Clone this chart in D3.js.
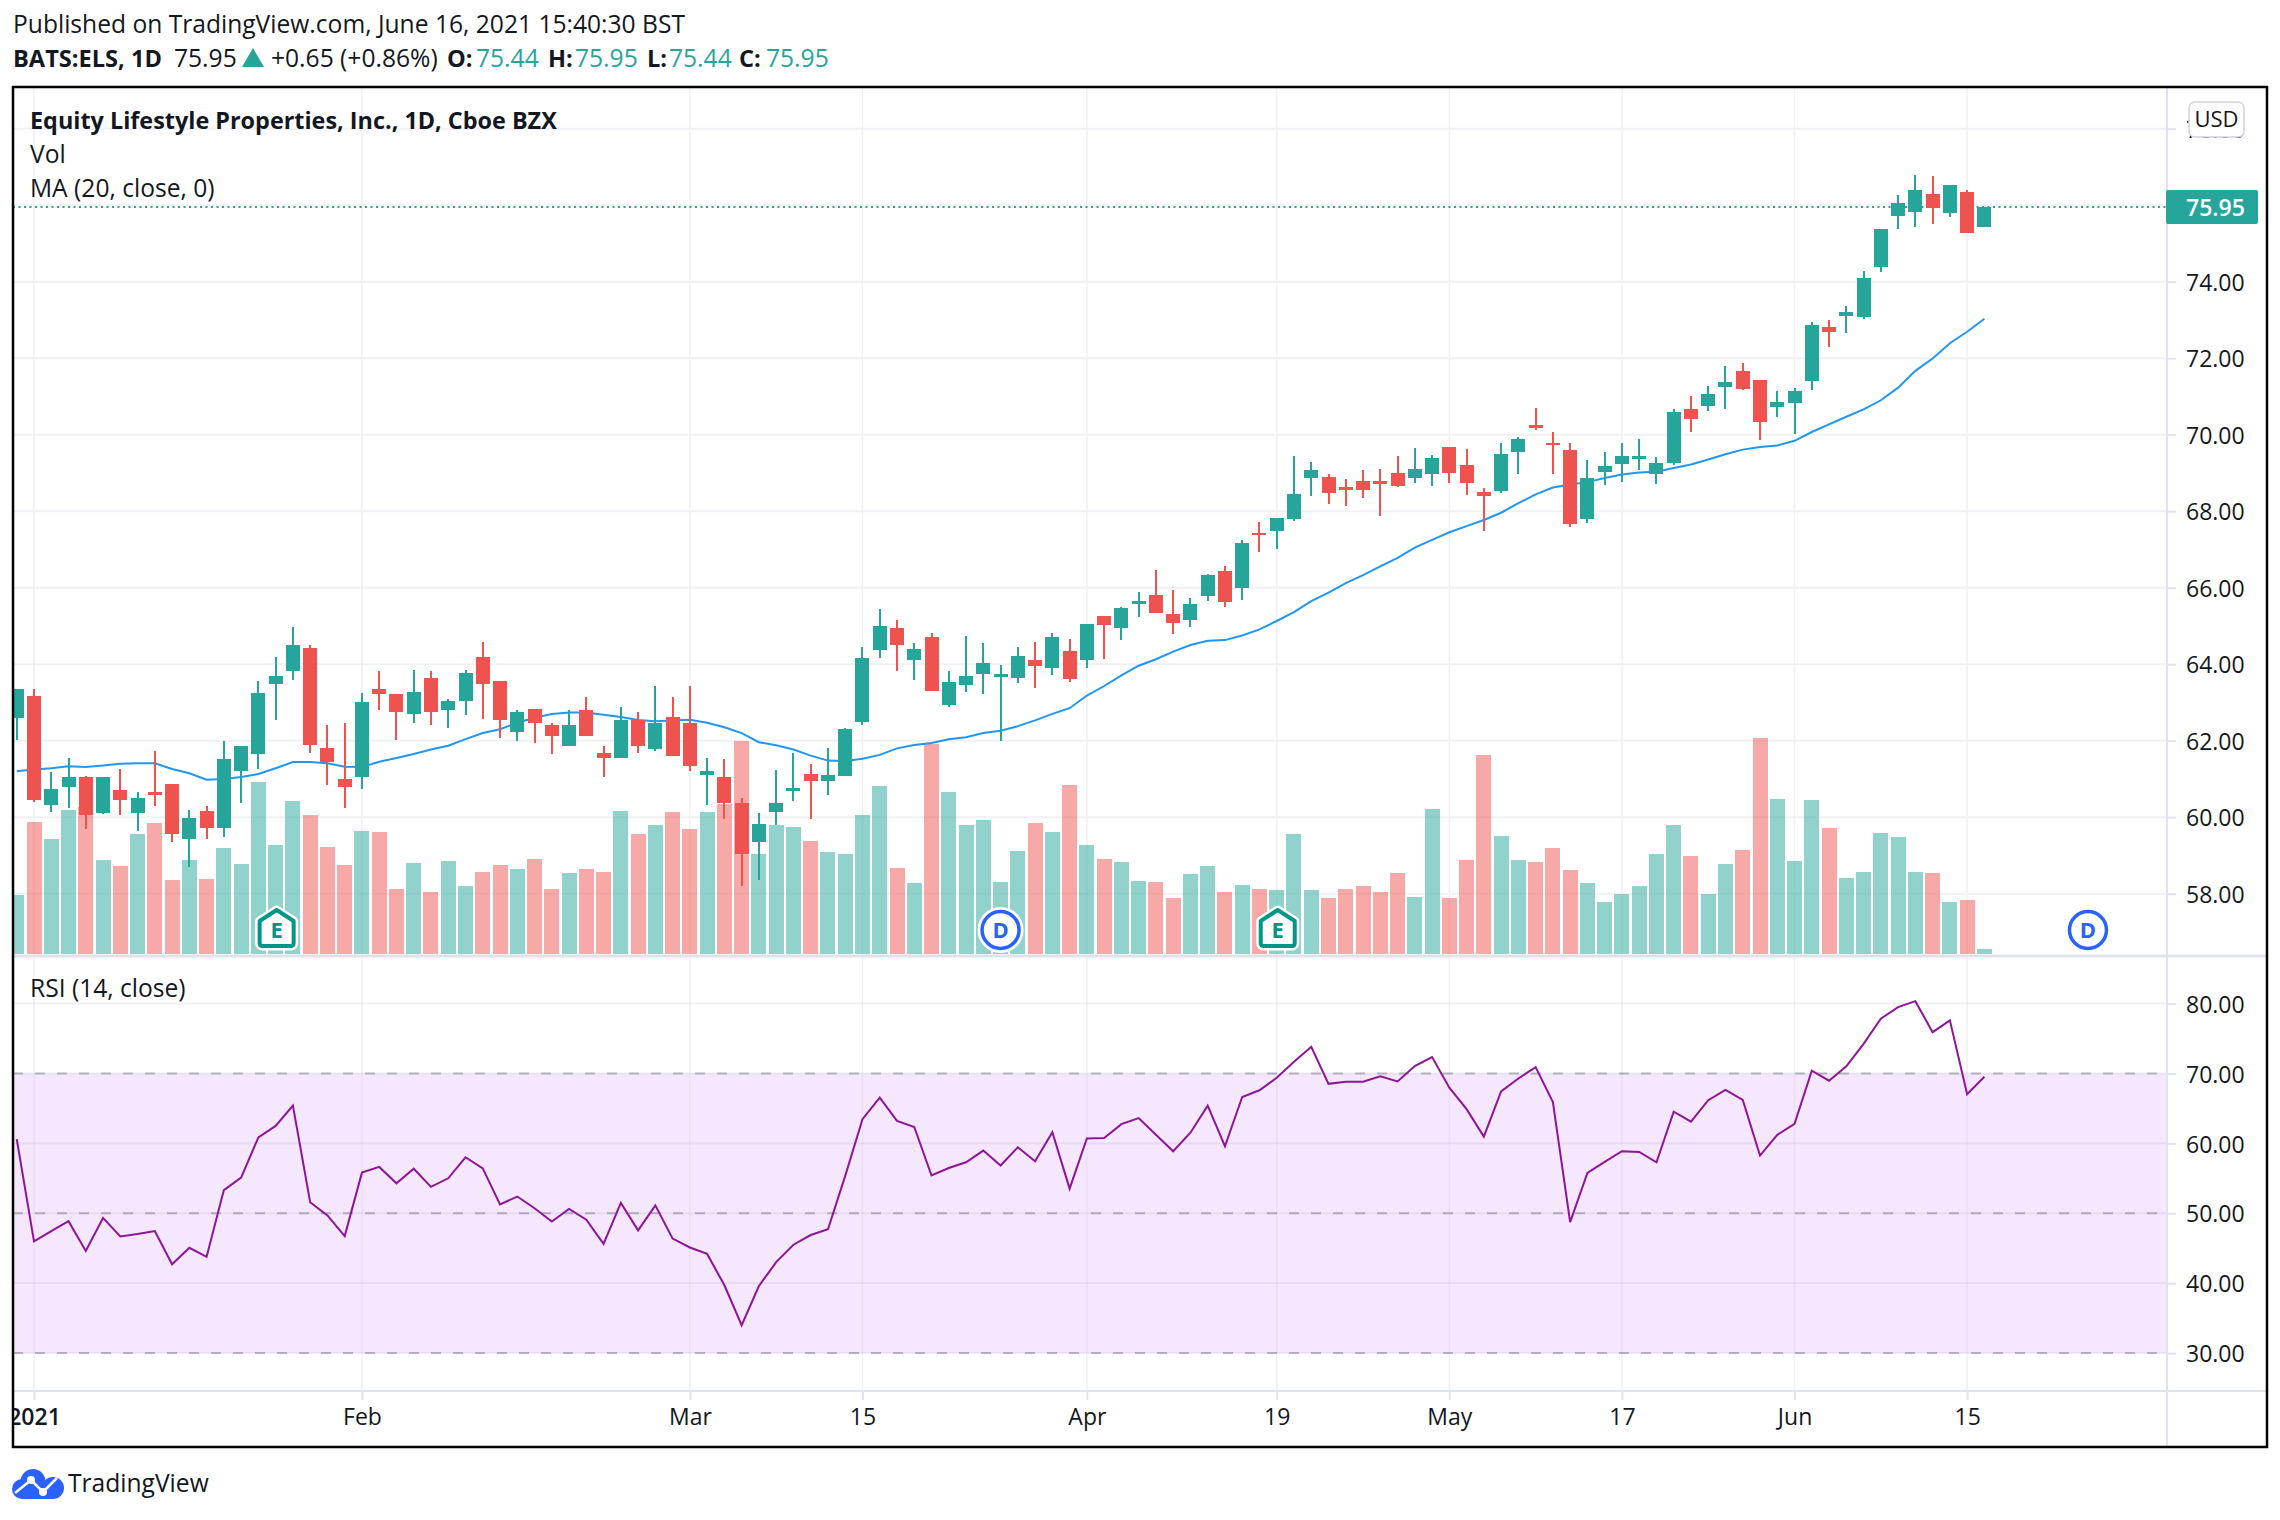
<!DOCTYPE html>
<html>
<head>
<meta charset="utf-8">
<script src="https://cdn.jsdelivr.net/npm/d3@7"></script>
<style>
  html, body { margin: 0; background: #fff; }
  svg { display: block; }
  text { font-family: "Open Sans", sans-serif; fill: #131722; }
  .axis text { font-size: 23px; fill: #131722; }
  .axis path { display: none; }
  .axis line { stroke: #e0e3eb; stroke-width: 2; }
</style>
</head>
<body>
<svg id="chart" width="2280" height="1520"></svg>
<script>
// Daily bars, first one is Dec 31 2020 (bar -1), Jan 4 2021 is bar 0
const opens = [62.59,63.18,60.33,60.80,61.06,60.12,60.72,60.12,60.67,60.88,59.44,60.15,59.73,61.22,61.66,63.47,63.81,64.43,61.82,61.01,61.06,63.36,63.21,62.71,63.65,62.81,63.05,64.20,63.55,62.24,62.84,62.40,61.85,62.79,61.69,61.56,62.53,61.77,62.63,62.45,61.11,61.04,60.38,59.34,
  60.14,60.69,61.13,60.95,61.08,62.49,64.37,64.95,64.11,64.71,62.94,63.46,63.75,63.67,63.64,64.11,63.90,64.35,64.11,65.26,64.95,65.58,65.81,65.31,65.16,65.79,66.44,65.99,67.43,67.48,67.80,68.87,68.90,68.63,68.79,68.79,69.00,68.87,68.97,69.68,69.21,68.50,68.53,69.56,
  70.25,69.79,69.59,67.79,69.02,69.23,69.36,68.96,69.25,70.67,70.75,71.24,71.66,71.43,70.72,70.82,71.40,72.81,73.10,73.08,74.38,75.72,75.82,76.30,75.80,76.35,75.44];
const highs = [63.36,63.34,61.19,61.56,61.09,61.04,61.27,60.67,61.72,60.88,60.20,60.28,62.00,61.87,63.57,64.20,64.96,64.51,62.42,62.45,63.26,63.83,63.21,63.86,63.81,63.08,63.86,64.57,63.55,62.81,62.84,62.47,62.81,63.13,61.87,62.87,62.74,63.44,63.13,63.44,61.56,61.53,60.49,60.12,
  61.24,61.68,61.39,61.81,62.34,64.45,65.45,65.16,64.56,64.82,63.83,64.74,64.56,63.98,64.45,64.58,64.82,64.66,65.05,65.26,65.49,65.89,66.46,65.94,65.72,66.36,66.57,67.24,67.72,67.82,69.44,69.29,68.97,68.84,69.08,69.10,69.44,69.65,69.47,69.68,69.63,68.61,69.78,69.93,
  70.71,70.06,69.78,69.33,69.54,69.78,69.88,69.41,70.67,71.01,71.27,71.79,71.87,71.43,71.14,71.22,72.94,72.99,73.36,74.28,75.38,76.27,76.79,76.77,76.53,76.40,75.95];
const lows = [62.03,60.39,60.13,60.23,59.68,60.08,60.07,59.65,60.30,59.36,58.71,59.44,59.47,60.36,61.25,62.55,63.60,61.69,60.83,60.23,60.75,62.79,62.03,62.47,62.42,62.34,62.68,62.58,62.08,62.00,61.95,61.66,61.85,62.13,61.04,61.56,61.69,61.72,61.61,61.22,60.33,59.96,58.21,58.37,
  59.80,60.43,59.96,60.58,61.08,62.40,64.16,63.83,63.59,63.30,62.88,63.28,63.22,61.98,63.51,63.38,63.72,63.54,63.90,64.14,64.64,65.24,65.34,64.79,64.98,65.65,65.50,65.68,66.94,67.01,67.75,68.40,68.19,68.14,68.35,67.88,68.63,68.74,68.66,68.74,68.42,67.48,68.48,68.97,
  70.12,68.96,67.59,67.69,68.68,68.76,69.07,68.70,69.20,70.06,70.61,70.67,71.16,69.85,70.46,70.01,71.16,72.29,72.66,73.02,74.25,75.38,75.43,75.51,75.69,75.27,75.44];
const closes = [63.34,60.44,60.75,61.06,60.07,61.04,60.44,60.51,60.57,59.57,59.99,59.73,61.51,61.87,63.26,63.70,64.49,61.90,61.45,60.80,63.02,63.23,62.74,63.28,62.74,63.05,63.76,63.47,62.53,62.76,62.45,62.11,62.42,62.13,61.56,62.53,61.85,62.47,61.61,61.35,61.22,60.36,59.05,59.83,
  60.38,60.77,60.95,61.11,62.31,64.16,65.00,64.50,64.40,63.30,63.54,63.69,64.03,63.75,64.22,63.96,64.71,63.62,65.05,65.03,65.47,65.65,65.34,65.08,65.58,66.33,65.63,67.17,67.38,67.82,68.45,69.08,68.48,68.56,68.56,68.71,68.66,69.10,69.39,69.00,68.74,68.40,69.50,69.89,
  70.18,69.73,67.66,68.86,69.17,69.44,69.44,69.25,70.59,70.40,71.06,71.37,71.19,70.33,70.85,71.14,72.86,72.68,73.21,74.10,75.38,76.06,76.40,75.93,76.53,75.27,75.95];
// thousand shares
const volumes = [590,1320,1150,1440,1470,940,880,1200,1310,740,940,750,1060,900,1720,1090,1530,1390,1070,890,1230,1220,650,910,620,930,680,820,890,850,950,650,810,850,820,1430,1200,1290,1420,1250,1420,1500,2130,1000,
  1290,1270,1130,1020,1000,1390,1680,860,710,2100,1620,1290,1340,720,1030,1310,1220,1690,1090,950,920,730,720,560,800,880,620,690,650,640,1200,640,560,650,680,620,810,570,1450,560,940,1990,1180,940,
  920,1060,840,710,520,600,680,1000,1290,980,600,900,1040,2160,1550,930,1540,1260,760,820,1210,1170,820,810,520,540,50];
const ma20 = [61.20,61.25,61.28,61.33,61.31,61.35,61.40,61.41,61.41,61.26,61.15,60.98,61.00,61.05,61.13,61.28,61.44,61.44,61.41,61.32,61.31,61.45,61.55,61.65,61.77,61.87,62.04,62.20,62.30,62.47,62.60,62.70,62.74,62.74,62.68,62.62,62.54,62.51,62.53,62.55,62.47,62.35,62.20,61.96,
  61.88,61.77,61.61,61.48,61.47,61.53,61.63,61.80,61.89,61.94,62.04,62.09,62.20,62.26,62.38,62.53,62.70,62.85,63.18,63.43,63.71,63.96,64.13,64.33,64.50,64.61,64.63,64.75,64.91,65.13,65.36,65.65,65.87,66.12,66.33,66.56,66.78,67.05,67.25,67.45,67.61,67.77,67.96,68.21,
  68.44,68.62,68.70,68.76,68.87,68.96,69.01,69.03,69.13,69.22,69.35,69.49,69.61,69.68,69.72,69.84,70.07,70.27,70.47,70.66,70.90,71.23,71.67,71.99,72.39,72.69,73.03];
const rsi14 = [60.61,45.96,47.44,48.87,44.59,49.33,46.68,47.04,47.44,42.70,45.05,43.77,53.31,55.10,60.86,62.50,65.40,51.58,49.69,46.73,55.81,56.63,54.28,56.37,53.77,55.00,58.01,56.42,51.27,52.39,50.71,48.82,50.61,49.08,45.61,51.48,47.55,51.12,46.37,45.10,44.18,39.69,33.97,39.59,
  43.00,45.50,46.88,47.70,55.35,63.46,66.53,63.21,62.34,55.40,56.47,57.29,58.97,56.83,59.43,57.44,61.58,53.52,60.71,60.76,62.75,63.62,61.22,58.87,61.53,65.40,59.59,66.63,67.60,69.38,71.68,73.82,68.52,68.82,68.82,69.59,68.87,71.07,72.34,67.96,64.89,60.96,67.44,69.28,
  70.91,65.91,48.72,55.76,57.34,58.87,58.77,57.29,64.54,63.11,66.17,67.65,66.22,58.26,61.22,62.80,70.40,68.97,71.02,74.23,77.85,79.49,80.35,75.91,77.60,67.04,69.54];

const priceTicks = [58, 60, 62, 64, 66, 68, 70, 72, 74, 78];
const rsiTicks = [30, 40, 50, 60, 70, 80];
const rsiLevels = [30, 50, 70];
const timeTickBars = [0, 19, 38, 48, 61, 72, 82, 92, 102, 112];
const timeTickLabels = ['2021', 'Feb', 'Mar', '15', 'Apr', '19', 'May', '17', 'Jun', '15'];
const earningsBars = [14, 72];
const dividendBars = [56, 119];
const lastPrice = 75.95;

const green = '#26a69a', red = '#ef5350', blue = '#2962ff';
const frame = { left: 13, right: 2267, top: 87, bottom: 1447 };
const axisX = 2167, timeAxisY = 1391, paneSplitY = 955;

const bars = closes.map((c, i) => ({
  bar: i - 1, open: opens[i], high: highs[i], low: lows[i], close: c,
  volume: volumes[i], ma: ma20[i], rsi: rsi14[i]
}));

const x = d3.scaleLinear([0, 113], [34, 1984.4]);
const yPrice = d3.scaleLinear([58, 74], [893.7, 281.7]);
const yVolume = d3.scaleLinear([0, 2160], [954, 738]);
const yRsi = d3.scaleLinear([30, 80], [1353, 1003.6]);

const svg = d3.select('#chart');
const isUp = d => d.close >= d.open;

svg.append('clipPath').attr('id', 'plotClip').append('rect')
  .attr('x', frame.left).attr('y', frame.top)
  .attr('width', axisX - frame.left).attr('height', timeAxisY - frame.top);
svg.append('clipPath').attr('id', 'frameClip').append('rect')
  .attr('x', frame.left).attr('y', frame.top)
  .attr('width', frame.right - frame.left).attr('height', frame.bottom - frame.top);

// Grid
let grid = svg.append('g').attr('stroke', '#f0f1f4');
grid.selectAll('.vgrid').data(timeTickBars).join('line')
  .attr('x1', d => x(d)).attr('x2', d => x(d))
  .attr('y1', frame.top).attr('y2', timeAxisY)
  .attr('stroke-width', 1.5);
grid.selectAll('.hprice').data(priceTicks.concat([76])).join('line')
  .attr('x1', frame.left).attr('x2', axisX)
  .attr('y1', d => yPrice(d)).attr('y2', d => yPrice(d))
  .attr('stroke-width', 2);

// RSI band goes under its grid lines
svg.append('rect')
  .attr('x', frame.left).attr('width', axisX - frame.left)
  .attr('y', yRsi(70)).attr('height', yRsi(30) - yRsi(70))
  .attr('fill', '#f5e7fe');
svg.append('g').attr('stroke', '#8a7a9a').attr('stroke-opacity', 0.12)
  .selectAll('line').data(rsiTicks).join('line')
  .attr('x1', frame.left).attr('x2', axisX)
  .attr('y1', d => yRsi(d)).attr('y2', d => yRsi(d))
  .attr('stroke-width', 2);
svg.append('g').attr('stroke', '#8a7a9a').attr('stroke-opacity', 0.08)
  .selectAll('line').data(timeTickBars).join('line')
  .attr('x1', d => x(d)).attr('x2', d => x(d))
  .attr('y1', yRsi(70)).attr('y2', yRsi(30))
  .attr('stroke-width', 1.5);
svg.append('g').attr('stroke', '#787b86').attr('stroke-opacity', 0.5)
  .attr('stroke-dasharray', '10 12')
  .selectAll('line').data(rsiLevels).join('line')
  .attr('x1', frame.left).attr('x2', axisX)
  .attr('y1', d => yRsi(d)).attr('y2', d => yRsi(d))
  .attr('stroke-width', 2);

let plot = svg.append('g').attr('clip-path', 'url(#plotClip)');

// Volume
plot.append('g').attr('shape-rendering', 'crispEdges')
  .selectAll('rect').data(bars).join('rect')
  .attr('x', d => Math.round(x(d.bar) - 7.5))
  .attr('width', 15)
  .attr('y', d => yVolume(d.volume))
  .attr('height', d => yVolume(0) - yVolume(d.volume))
  .attr('fill', d => isUp(d) ? green : red)
  .attr('fill-opacity', 0.5);

// Moving average
plot.append('path').datum(bars)
  .attr('fill', 'none').attr('stroke', '#2196f3').attr('stroke-width', 2)
  .attr('d', d3.line().x(d => x(d.bar)).y(d => yPrice(d.ma)));

// Last price line
plot.append('line')
  .attr('x1', frame.left).attr('x2', axisX)
  .attr('y1', yPrice(lastPrice)).attr('y2', yPrice(lastPrice))
  .attr('stroke', green).attr('stroke-width', 2).attr('stroke-dasharray', '2 3.5');

// Candles
let candles = plot.append('g').attr('shape-rendering', 'crispEdges')
  .selectAll('g').data(bars).join('g')
  .attr('fill', d => isUp(d) ? green : red);
candles.append('rect')
  .attr('x', d => Math.round(x(d.bar)) - 1).attr('width', 2)
  .attr('y', d => yPrice(d.high))
  .attr('height', d => yPrice(d.low) - yPrice(d.high));
candles.append('rect')
  .attr('x', d => Math.round(x(d.bar)) - 7).attr('width', 14)
  .attr('y', d => yPrice(Math.max(d.open, d.close)))
  .attr('height', d => Math.max(2, Math.abs(yPrice(d.open) - yPrice(d.close))));

// RSI line
plot.append('path').datum(bars)
  .attr('fill', 'none').attr('stroke', '#8e1599').attr('stroke-width', 2)
  .attr('d', d3.line().x(d => x(d.bar)).y(d => yRsi(d.rsi)));

// Earnings and dividend markers
let earnings = plot.append('g').selectAll('g').data(earningsBars).join('g')
  .attr('transform', d => `translate(${x(d) + 1},0)`);
const house = 'M-17 921L0 910L17 921V943Q17 946 14 946H-14Q-17 946 -17 943Z';
earnings.append('path').attr('d', house)
  .attr('fill', '#fff').attr('stroke', '#fff').attr('stroke-width', 9).attr('stroke-linejoin', 'round');
earnings.append('path').attr('d', house)
  .attr('fill', '#fff').attr('stroke', '#009688').attr('stroke-width', 4).attr('stroke-linejoin', 'round');
earnings.append('text').attr('y', 938).attr('text-anchor', 'middle')
  .style('font-size', '22px').style('font-weight', 700).style('fill', '#009688').text('E');

let dividends = plot.append('g').selectAll('g').data(dividendBars).join('g')
  .attr('transform', d => `translate(${x(d)},930)`);
dividends.append('circle').attr('r', 19)
  .attr('fill', '#fff').attr('stroke', '#fff').attr('stroke-width', 8);
dividends.append('circle').attr('r', 18.5)
  .attr('fill', '#fff').attr('stroke', blue).attr('stroke-width', 3.5);
dividends.append('text').attr('y', 8).attr('text-anchor', 'middle')
  .style('font-size', '22px').style('font-weight', 700).style('fill', blue).text('D');

// Pane borders
svg.append('line').attr('x1', frame.left).attr('x2', frame.right)
  .attr('y1', paneSplitY + 1).attr('y2', paneSplitY + 1)
  .attr('stroke', '#e0e3eb').attr('stroke-width', 3);
svg.append('line').attr('x1', frame.left).attr('x2', frame.right)
  .attr('y1', timeAxisY).attr('y2', timeAxisY)
  .attr('stroke', '#e0e3eb').attr('stroke-width', 2);
svg.append('line').attr('x1', axisX).attr('x2', axisX)
  .attr('y1', frame.top).attr('y2', frame.bottom)
  .attr('stroke', '#e0e3eb').attr('stroke-width', 2);

// Axes
let priceAxis = d3.axisRight(yPrice).tickValues(priceTicks)
  .tickFormat(d3.format('.2f')).tickSize(9).tickPadding(10);
svg.append('g').attr('class', 'axis').attr('transform', `translate(${axisX},0)`).call(priceAxis)
  .selectAll('text').attr('dy', '0.38em');

let rsiAxis = d3.axisRight(yRsi).tickValues(rsiTicks)
  .tickFormat(d3.format('.2f')).tickSize(9).tickPadding(10);
svg.append('g').attr('class', 'axis').attr('transform', `translate(${axisX},0)`).call(rsiAxis)
  .selectAll('text').attr('dy', '0.38em');

// clip sits on an outer group, the frame cuts the "2021" label like the original
let timeAxis = d3.axisBottom(x).tickValues(timeTickBars)
  .tickFormat((d, i) => timeTickLabels[i]).tickSize(9).tickPadding(9);
let timeG = svg.append('g').attr('clip-path', 'url(#frameClip)')
  .append('g').attr('class', 'axis')
  .attr('transform', `translate(0,${timeAxisY})`).call(timeAxis);
timeG.selectAll('text').filter((d, i) => i === 0).style('font-weight', 600);

// Price tag and currency box on the axis
svg.append('rect').attr('x', 2166).attr('y', 190).attr('width', 92).attr('height', 34)
  .attr('rx', 2).attr('fill', green);
svg.append('text').attr('x', 2186).attr('y', yPrice(lastPrice) + 9)
  .style('font-size', '23px').style('font-weight', 600).style('fill', '#fff')
  .text(d3.format('.2f')(lastPrice));
svg.append('rect').attr('x', 2189).attr('y', 102).attr('width', 55).attr('height', 35)
  .attr('rx', 6).attr('fill', '#fff').attr('stroke', '#d1d4dc').attr('stroke-width', 1.5);
svg.append('text').attr('x', 2216.5).attr('y', 127).attr('text-anchor', 'middle')
  .style('font-size', '22px').text('USD');

// Frame on top
svg.append('rect').attr('x', frame.left).attr('y', frame.top)
  .attr('width', frame.right - frame.left).attr('height', frame.bottom - frame.top)
  .attr('fill', 'none').attr('stroke', '#000').attr('stroke-width', 2.5);

// Header
function label(str, xPos, yPos, opts = {}) {
  return svg.append('text').attr('x', xPos).attr('y', yPos)
    .style('font-size', (opts.size || 24.6) + 'px')
    .style('font-weight', opts.weight || 400)
    .style('fill', opts.fill || '#131722')
    .text(str);
}
label('Published on TradingView.com, June 16, 2021 15:40:30 BST', 13, 33);
label('BATS:ELS, 1D', 13, 67, { weight: 700, size: 23.6 });
label('75.95', 174, 67);
svg.append('path').attr('d', 'M242 67L253 48L264 67Z').attr('fill', green);
label('+0.65 (+0.86%)', 271, 67);
[['O:', 447, 476, '75.44'], ['H:', 548, 575, '75.95'], ['L:', 647, 669, '75.44'], ['C:', 739, 766, '75.95']]
  .forEach(([k, kx, vx, v]) => {
    label(k, kx, 67, { weight: 700, size: 23.6 });
    label(v, vx, 67, { fill: green });
  });

// Pane legends
label('Equity Lifestyle Properties, Inc., 1D, Cboe BZX', 30, 129, { weight: 700, size: 23.4 });
label('Vol', 30, 163);
label('MA (20, close, 0)', 30, 197);
label('RSI (14, close)', 30, 997);

// Logo
let logo = svg.append('g').attr('fill', blue);
logo.append('circle').attr('cx', 33).attr('cy', 1481.5).attr('r', 12.5);
logo.append('circle').attr('cx', 22).attr('cy', 1489).attr('r', 10);
logo.append('circle').attr('cx', 53).attr('cy', 1488).attr('r', 11);
logo.append('rect').attr('x', 22).attr('y', 1482).attr('width', 31).attr('height', 17);
logo.append('path').attr('d', 'M15 1493L31 1480L43 1492L57 1478')
  .attr('fill', 'none').attr('stroke', '#fff').attr('stroke-width', 2.5);
logo.append('circle').attr('cx', 31).attr('cy', 1480).attr('r', 4).attr('fill', '#fff');
logo.append('circle').attr('cx', 43).attr('cy', 1492).attr('r', 4).attr('fill', '#fff');
label('TradingView', 68, 1492);
</script>
</body>
</html>
